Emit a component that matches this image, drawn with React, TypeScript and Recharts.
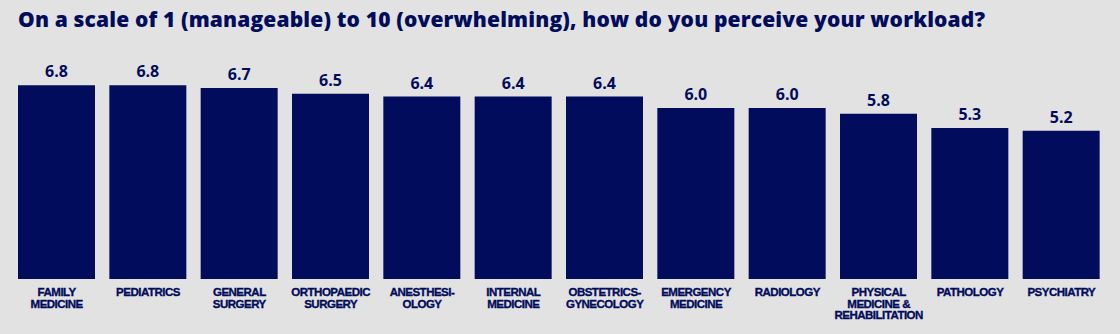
import { BarChart, Bar, XAxis, YAxis, LabelList } from 'recharts';

const specialties = [
  'FAMILY\nMEDICINE',
  'PEDIATRICS',
  'GENERAL\nSURGERY',
  'ORTHOPAEDIC\nSURGERY',
  'ANESTHESI-\nOLOGY',
  'INTERNAL\nMEDICINE',
  'OBSTETRICS-\nGYNECOLOGY',
  'EMERGENCY\nMEDICINE',
  'RADIOLOGY',
  'PHYSICAL\nMEDICINE &\nREHABILITATION',
  'PATHOLOGY',
  'PSYCHIATRY',
];

const workload = [6.8, 6.8, 6.7, 6.5, 6.4, 6.4, 6.4, 6.0, 6.0, 5.8, 5.3, 5.2];

const NAVY = '#020c5c';

const data = specialties.map((name, i) => ({ name, value: workload[i] }));

function SpecialtyTick(props: any) {
  const { x, y, payload } = props;
  const lines = String(payload.value).split('\n');
  return (
    <text
      x={x}
      y={y}
      textAnchor="middle"
      fill={NAVY}
      stroke={NAVY}
      strokeWidth={0.35}
      fontFamily="'Liberation Sans', Arial, sans-serif"
      fontWeight={700}
      fontSize={11.5}
      letterSpacing={-0.5}
    >
      {lines.map((line, i) => (
        <tspan key={i} x={x} dy={i === 0 ? 9 : 11.5}>
          {line}
        </tspan>
      ))}
    </text>
  );
}

export default function App() {
  return (
    <div style={{ position: 'relative', width: 1120, height: 334, background: '#e2e2e2' }}>
      <style>{'body{margin:0}'}</style>
      <div
        style={{
          position: 'absolute',
          left: 18,
          top: 5,
          fontFamily: "'Open Sans', sans-serif",
          fontWeight: 800,
          fontSize: 21,
          letterSpacing: 0.15,
          color: NAVY,
          whiteSpace: 'nowrap',
        }}
      >
        On a scale of 1 (manageable) to 10 (overwhelming), how do you perceive your workload?
      </div>
      <div style={{ position: 'absolute', left: 0, top: 0 }}>
        <BarChart
          width={1120}
          height={334}
          data={data}
          margin={{ top: 79.5, right: 13, bottom: 5, left: 11 }}
        >
          <XAxis
            dataKey="name"
            axisLine={false}
            tickLine={false}
            interval={0}
            height={50}
            tick={<SpecialtyTick />}
          />
          <YAxis hide domain={[0, 7]} />
          <Bar dataKey="value" fill={NAVY} barSize={77} isAnimationActive={false}>
            <LabelList
              dataKey="value"
              position="top"
              offset={8}
              formatter={(v: any) => Number(v).toFixed(1)}
              fill={NAVY}
              fontFamily="'Open Sans', sans-serif"
              fontWeight={700}
              fontSize={16}
            />
          </Bar>
        </BarChart>
      </div>
    </div>
  );
}
